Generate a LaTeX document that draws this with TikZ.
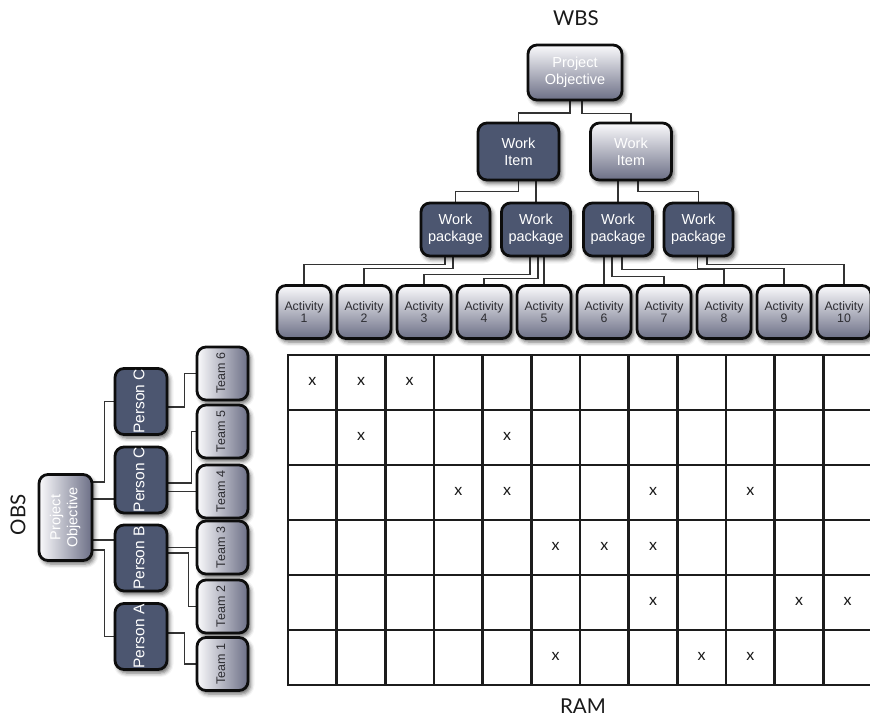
\documentclass[tikz,border=0pt]{standalone}
\usepackage{fontspec}
\setmainfont{Liberation Sans}
\newfontfamily\labfont{Lato}
\usetikzlibrary{shadows.blur,backgrounds}
\definecolor{dark}{RGB}{76,86,112}
\definecolor{gtop}{RGB}{250,250,252}
\definecolor{gbot}{RGB}{108,111,134}
\definecolor{dtext}{RGB}{45,45,50}
\definecolor{gridc}{RGB}{28,28,28}
\newcommand{\rot}[1]{\rotatebox{90}{\begin{tabular}{@{}c@{}}#1\end{tabular}}}
\begin{document}
\begin{tikzpicture}[x=1pt,y=-1pt,
  box/.style={draw=black!95, line width=2.8pt, rounded corners=9pt, inner sep=0pt, align=center,
    blur shadow={shadow xshift=2.5pt, shadow yshift=-3.5pt, shadow blur radius=4pt, shadow opacity=60}},
  darkbox/.style={box, fill=dark, text=white},
  lightbox/.style={box, top color=gtop, bottom color=gbot},
  lightboxh/.style={box, left color=gtop, right color=gbot},
  bigtxt/.style={font=\fontsize{14.5}{17}\selectfont},
  smalltxt/.style={font=\fontsize{12.3}{11.5}\selectfont, text=dtext},
  wbsbig/.style={minimum width=94pt, minimum height=55pt},
  wi/.style={minimum width=81pt, minimum height=57pt, bigtxt},
  wp/.style={darkbox, minimum width=69pt, minimum height=53pt, bigtxt},
  act/.style={lightbox, minimum width=54pt, minimum height=53pt, smalltxt},
  person/.style={darkbox, minimum width=52pt, minimum height=66pt, font=\fontsize{15.5}{17}\selectfont},
  team/.style={lightboxh, minimum width=51pt, minimum height=53pt, font=\fontsize{12.5}{12}\selectfont, text=dtext},
  wire/.style={draw=black!80, line width=1.5pt},
  gridline/.style={draw=gridc, line width=2.6pt},
  xmark/.style={font=\labfont\fontsize{16}{16}\selectfont, text=black!90},
  title/.style={font=\labfont\fontsize{20.5}{21}\selectfont, text=black!90}
]
\useasboundingbox (0,0) rectangle (870,717);

% ---------- titles ----------
\node[title] (wbs) at (576,18) {WBS};
\node[title] (ram) at (583,706) {RAM};
\node[title, rotate=90] (obs) at (18,515) {OBS};

% ---------- WBS nodes ----------
\node[lightbox, wbsbig, bigtxt, text=white] (po) at (575,72.5) {Project\\Objective};
\node[darkbox, wi] (wi1) at (518.5,151.5) {Work\\Item};
\node[lightbox, wi, text=white] (wi2) at (631,151.5) {Work\\Item};
\node[wp] (wp1) at (455.5,229.5) {Work\\package};
\node[wp] (wp2) at (536,229.5) {Work\\package};
\node[wp] (wp3) at (618,229.5) {Work\\package};
\node[wp] (wp4) at (698.5,229.5) {Work\\package};
\foreach \i in {1,...,10} {
  \node[act] (a\i) at ({304+60*(\i-1)},312) {Activity\\\i};
}

% ---------- OBS nodes ----------
\node[lightboxh, minimum width=53pt, minimum height=86pt, bigtxt, text=white] (opo) at (65.5,517.5) {\rot{Project\\Objective}};
\node[person] (pc1) at (141,401.5) {\rot{Person C}};
\node[person] (pc2) at (141,480) {\rot{Person C}};
\node[person] (pb) at (141,558) {\rot{Person B}};
\node[person] (pa) at (141,636.5) {\rot{Person A}};
\node[team] (t6) at (222.5,373.5) {\rot{Team 6}};
\node[team] (t5) at (222.5,431.5) {\rot{Team 5}};
\node[team] (t4) at (222.5,491.5) {\rot{Team 4}};
\node[team] (t3) at (222.5,547.5) {\rot{Team 3}};
\node[team] (t2) at (222.5,606.5) {\rot{Team 2}};
\node[team] (t1) at (222.5,664) {\rot{Team 1}};

% ---------- connectors (behind boxes) ----------
\begin{scope}[on background layer]
% WBS
\draw[wire] ([xshift=-5pt]po.south) -- ++(0,11.5) -| (wi1.north);
\draw[wire] ([xshift=7pt]po.south) -- ++(0,12) -| (wi2.north);
\draw[wire] (wi1.south) -- ++(0,10) -| (wp1.north);
\draw[wire] (wi1.south -| wp2.north) -- (wp2.north);
\draw[wire] (wi2.south -| wp3.north) -- (wp3.north);
\draw[wire] ([xshift=7pt]wi2.south) -- ++(0,10) -| (wp4.north);
\draw[wire] ([xshift=-10.5pt]wp1.south) -- ++(0,7) -| (a1.north);
\draw[wire] ([xshift=-2.5pt]wp1.south) -- ++(0,11) -| (a2.north);
\draw[wire] ([xshift=-6pt]wp2.south) -- ++(0,17) -| (a3.north);
\draw[wire] ([xshift=2pt]wp2.south) -- ++(0,21) -| (a4.north);
\draw[wire] (wp2.south -| a5.north) -- (a5.north);
\draw[wire] (wp3.south -| a6.north) -- (a6.north);
\draw[wire] ([xshift=-6pt]wp3.south) -- ++(0,19) -| (a7.north);
\draw[wire] ([xshift=4pt]wp3.south) -- ++(0,12) -| (a8.north);
\draw[wire] ([xshift=-1pt]wp4.south) -- ++(0,11) -| (a9.north);
\draw[wire] ([xshift=8.5pt]wp4.south) -- ++(0,7) -| (a10.north);
% OBS
\draw[wire] ([yshift=35.5pt]opo.east) -- ++(11,0) |- (pc1.west);
\draw[wire] ([yshift=18.5pt]opo.east) -- ([yshift=18.5pt]opo.east -| pc2.west);
\draw[wire] ([yshift=-22.5pt]opo.east) -- ([yshift=-22.5pt]opo.east -| pb.west);
\draw[wire] ([yshift=-32.5pt]opo.east) -- ++(11,0) |- (pa.west);
\draw[wire] ([yshift=-5.5pt]pc1.east) -- ++(16,0) |- (t6.west);
\draw[wire] ([yshift=-3pt]pc2.east) -- ++(23,0) |- (t5.west);
\draw[wire] (pc2.east |- t4.west) -- (t4.west);
\draw[wire] (pb.east |- t3.west) -- (t3.west);
\draw[wire] ([yshift=5pt]pb.east) -- ++(20,0) |- (t2.west);
\draw[wire] ([yshift=3.5pt]pa.east) -- ++(16,0) |- (t1.west);
\end{scope}

% ---------- RAM grid ----------
\foreach \r in {0,...,6} {
  \draw[gridline] (287,{355+55*\r}) -- (871,{355+55*\r});
}
\foreach \c in {0,...,11} {
  \draw[gridline] ({288+48.67*\c},354) -- ({288+48.67*\c},686);
}
\foreach \r/\c in {1/1,1/2,1/3, 2/2,2/5, 3/4,3/5,3/8,3/10, 4/6,4/7,4/8, 5/8,5/11,5/12, 6/6,6/9,6/10} {
  \node[xmark] (m\r-\c) at ({288+48.67*(\c-0.5)},{355+55*(\r-0.5)-1.5}) {x};
}
\end{tikzpicture}
\end{document}
